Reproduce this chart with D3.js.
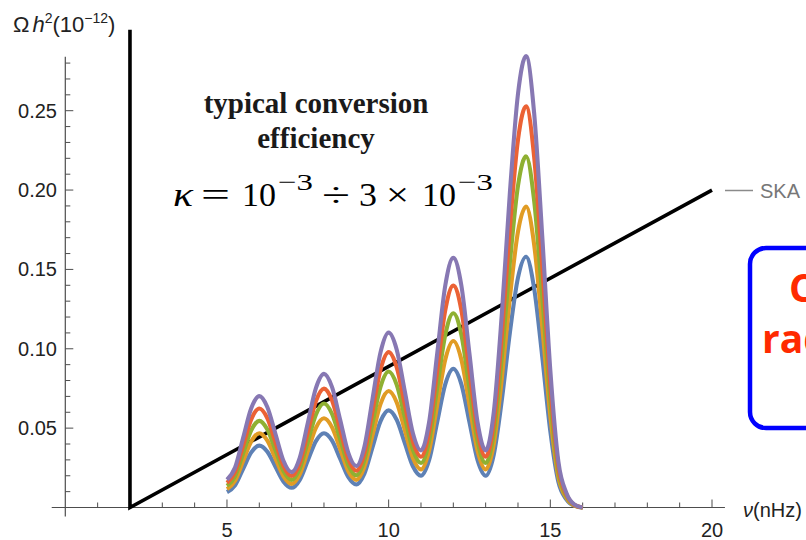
<!DOCTYPE html>
<html><head><meta charset="utf-8">
<script src="https://cdn.jsdelivr.net/npm/d3@7"></script>
<style>body{margin:0;background:#fff;overflow:hidden;} svg{display:block;}</style>
</head><body>
<script>
// ---- data ----
const freqs = [5,5.25,5.5,5.75,6,6.25,6.5,6.75,7,7.25,7.5,7.75,8,8.25,8.5,8.75,9,9.25,9.5,9.75,10,10.25,10.5,10.75,11,11.25,11.5,11.75,12,12.25,12.5,12.75,13,13.25,13.5,13.75,14,14.25,14.5,14.75,15,15.25,15.5,15.75,16];
const curveBlue   = [0.0097,0.0140,0.0244,0.0347,0.0390,0.0351,0.0257,0.0163,0.0124,0.0174,0.0296,0.0418,0.0468,0.0421,0.0307,0.0192,0.0145,0.0213,0.0379,0.0544,0.0612,0.0552,0.0406,0.0260,0.0200,0.0298,0.0537,0.0776,0.0874,0.0776,0.0537,0.0298,0.0200,0.0332,0.0677,0.1103,0.1448,0.1580,0.1380,0.0950,0.0480,0.0160,0.0050,0.0010,0];
const curveOrange = [0.0116,0.0168,0.0293,0.0416,0.0468,0.0421,0.0308,0.0196,0.0149,0.0209,0.0355,0.0502,0.0562,0.0505,0.0368,0.0230,0.0174,0.0256,0.0455,0.0653,0.0734,0.0662,0.0487,0.0312,0.0240,0.0358,0.0644,0.0931,0.1049,0.0931,0.0644,0.0358,0.0240,0.0398,0.0812,0.1324,0.1738,0.1896,0.1656,0.1140,0.0576,0.0192,0.0060,0.0012,0];
const curveGreen  = [0.0136,0.0196,0.0342,0.0486,0.0546,0.0491,0.0360,0.0228,0.0174,0.0244,0.0414,0.0585,0.0655,0.0589,0.0430,0.0269,0.0203,0.0298,0.0531,0.0762,0.0857,0.0773,0.0568,0.0364,0.0280,0.0417,0.0752,0.1086,0.1224,0.1086,0.0752,0.0417,0.0280,0.0465,0.0948,0.1544,0.2027,0.2212,0.1932,0.1330,0.0672,0.0224,0.0070,0.0014,0];
const curveRed    = [0.0155,0.0224,0.0390,0.0555,0.0624,0.0562,0.0411,0.0261,0.0198,0.0278,0.0474,0.0669,0.0749,0.0674,0.0491,0.0307,0.0232,0.0341,0.0606,0.0870,0.0979,0.0883,0.0650,0.0416,0.0320,0.0477,0.0859,0.1242,0.1398,0.1242,0.0859,0.0477,0.0320,0.0531,0.1083,0.1765,0.2317,0.2528,0.2208,0.1520,0.0768,0.0256,0.0080,0.0016,0];
const curvePurple = [0.0175,0.0252,0.0439,0.0625,0.0702,0.0632,0.0463,0.0293,0.0223,0.0313,0.0533,0.0752,0.0842,0.0758,0.0553,0.0346,0.0261,0.0383,0.0682,0.0979,0.1102,0.0994,0.0731,0.0468,0.0360,0.0536,0.0967,0.1397,0.1573,0.1397,0.0967,0.0536,0.0360,0.0598,0.1219,0.1985,0.2606,0.2844,0.2484,0.1710,0.0864,0.0288,0.0090,0.0018,0];
const seriesList = [curveBlue, curveOrange, curveGreen, curveRed, curvePurple];
const seriesColors = ["#5E81B5","#E19C24","#8FB032","#EB6235","#8778B3"];
const skaFreq  = [2, 2, 20];
const skaOmega = [0.301, 0, 0.2];
const xMajorTicks = [5, 10, 15, 20];
const xMinorTicks = [1,2,3,4,6,7,8,9,11,12,13,14,16,17,18,19];
const yMajorTicks = [0.05, 0.10, 0.15, 0.20, 0.25];
const yMinorTicks = [0.01,0.02,0.03,0.04,0.06,0.07,0.08,0.09,0.11,0.12,0.13,0.14,0.16,0.17,0.18,0.19,0.21,0.22,0.23,0.24,0.26,0.27,0.28];

// ---- layout ----
const W = 806, H = 540;
const x = d3.scaleLinear().domain([0, 20]).range([65.3, 712]);
const y = d3.scaleLinear().domain([0, 0.25]).range([507.5, 110.7]);

const svg = d3.select("body").append("svg").attr("width", W).attr("height", H);

const axisColor = "#4d4d4d";
svg.append("line").attr("x1", x(-0.42)).attr("x2", x(20.4)).attr("y1", y(0)).attr("y2", y(0))
  .attr("stroke", axisColor).attr("stroke-width", 1.2);
svg.append("line").attr("x1", x(0)).attr("x2", x(0)).attr("y1", y(0.284)).attr("y2", y(0) + 9)
  .attr("stroke", axisColor).attr("stroke-width", 1.2);

svg.selectAll(".xmaj").data(xMajorTicks).enter().append("line")
  .attr("x1", d => x(d)).attr("x2", d => x(d)).attr("y1", y(0)).attr("y2", y(0) - 8)
  .attr("stroke", axisColor).attr("stroke-width", 1);
svg.selectAll(".xmin").data(xMinorTicks).enter().append("line")
  .attr("x1", d => x(d)).attr("x2", d => x(d)).attr("y1", y(0)).attr("y2", y(0) - 5)
  .attr("stroke", axisColor).attr("stroke-width", 1);
svg.selectAll(".xlab").data(xMajorTicks).enter().append("text")
  .attr("x", d => x(d)).attr("y", 537).attr("text-anchor", "middle")
  .attr("font-family", "Liberation Sans, Arial, sans-serif").attr("font-size", 20).attr("fill", "#222")
  .text(d => d);

svg.selectAll(".ymaj").data(yMajorTicks).enter().append("line")
  .attr("x1", x(0)).attr("x2", x(0) + 8).attr("y1", d => y(d)).attr("y2", d => y(d))
  .attr("stroke", axisColor).attr("stroke-width", 1);
svg.selectAll(".ymin").data(yMinorTicks).enter().append("line")
  .attr("x1", x(0)).attr("x2", x(0) + 5).attr("y1", d => y(d)).attr("y2", d => y(d))
  .attr("stroke", axisColor).attr("stroke-width", 1);
svg.selectAll(".ylab").data(yMajorTicks).enter().append("text")
  .attr("x", 57).attr("y", d => y(d) + 7).attr("text-anchor", "end")
  .attr("font-family", "Liberation Sans, Arial, sans-serif").attr("font-size", 20).attr("fill", "#222")
  .text(d => d.toFixed(2));

const yt = svg.append("text").attr("x", 13).attr("y", 32)
  .attr("font-family", "Liberation Sans, Arial, sans-serif").attr("font-size", 22).attr("fill", "#222");
yt.append("tspan").text("Ω");
yt.append("tspan").attr("dx", 3).attr("font-style", "italic").text("h");
yt.append("tspan").attr("font-size", 14).attr("dy", -9).text("2");
yt.append("tspan").attr("dy", 9).text("(10");
yt.append("tspan").attr("font-size", 14).attr("dy", -9).text("−12");
yt.append("tspan").attr("dy", 9).text(")");

const xt = svg.append("text").attr("x", 743).attr("y", 517)
  .attr("font-family", "Liberation Sans, Arial, sans-serif").attr("font-size", 20).attr("fill", "#222");
xt.append("tspan").attr("font-style", "italic").text("ν");
xt.append("tspan").text("(nHz)");

// SKA sensitivity line
const skaPts = skaFreq.map((f, i) => [f, skaOmega[i]]);
svg.append("path").datum(skaPts)
  .attr("d", d3.line().x(d => x(d[0])).y(d => y(d[1])))
  .attr("fill", "none").attr("stroke", "#000").attr("stroke-width", 3.6).attr("stroke-linejoin", "miter");

svg.append("line").attr("x1", 725).attr("x2", 753).attr("y1", 190.5).attr("y2", 190.5)
  .attr("stroke", "#8a8a8a").attr("stroke-width", 1.5);
svg.append("text").attr("x", 760).attr("y", 198)
  .attr("font-family", "Liberation Sans, Arial, sans-serif").attr("font-size", 20).attr("fill", "#777")
  .text("SKA");

// curves
const line = d3.line().x(d => x(d[0])).y(d => y(d[1])).curve(d3.curveMonotoneX);
seriesList.forEach((vals, i) => {
  svg.append("path").datum(freqs.map((f, j) => [f, vals[j]]))
    .attr("d", line).attr("fill", "none").attr("stroke", seriesColors[i])
    .attr("stroke-width", 4.1).attr("stroke-linejoin", "round");
});

// annotation
svg.append("text").attr("x", 316).attr("y", 113).attr("text-anchor", "middle")
  .attr("font-family", "Liberation Serif, Times New Roman, serif").attr("font-weight", "bold")
  .attr("font-size", 29).attr("fill", "#1a1a1a").text("typical conversion");
svg.append("text").attr("x", 316).attr("y", 148).attr("text-anchor", "middle")
  .attr("font-family", "Liberation Serif, Times New Roman, serif").attr("font-weight", "bold")
  .attr("font-size", 29).attr("fill", "#1a1a1a").text("efficiency");

const fm = svg.append("g").attr("font-family", "Liberation Serif, Times New Roman, serif").attr("fill", "#000");
const piece = (t, px, py, fs, len, italic) => {
  const e = fm.append("text").attr("x", px).attr("y", py).attr("font-size", fs).text(t);
  if (len) e.attr("textLength", len).attr("lengthAdjust", "spacingAndGlyphs");
  if (italic) e.attr("font-style", "italic");
};
piece("κ", 173, 206, 34, 20, true);
piece("=", 201, 206, 34, 29);
piece("10", 242, 206, 34, 34);
piece("−3", 278, 190, 24, 35);
piece("÷", 322, 206, 34, 28);
piece("3", 359, 206, 34, 18);
piece("×", 386, 206, 34, 23);
piece("10", 422, 206, 34, 34);
piece("−3", 458, 190, 24, 35);

// blue box (extends beyond the right edge, as in the reference)
svg.append("rect").attr("x", 750).attr("y", 248).attr("width", 300).attr("height", 180)
  .attr("rx", 16).attr("ry", 16).attr("fill", "#fff").attr("stroke", "#0000ff").attr("stroke-width", 4.5);
svg.append("text").attr("x", 789).attr("y", 302)
  .attr("font-family", "Open Sans, Noto Sans, sans-serif").attr("font-weight", "bold")
  .attr("font-size", 39).attr("fill", "#ff2a00").text("Conversion");
svg.append("text").attr("x", 762).attr("y", 353)
  .attr("font-family", "Open Sans, Noto Sans, sans-serif").attr("font-weight", "bold")
  .attr("font-size", 39).attr("fill", "#ff2a00").text("radio waves");
</script>
</body></html>
